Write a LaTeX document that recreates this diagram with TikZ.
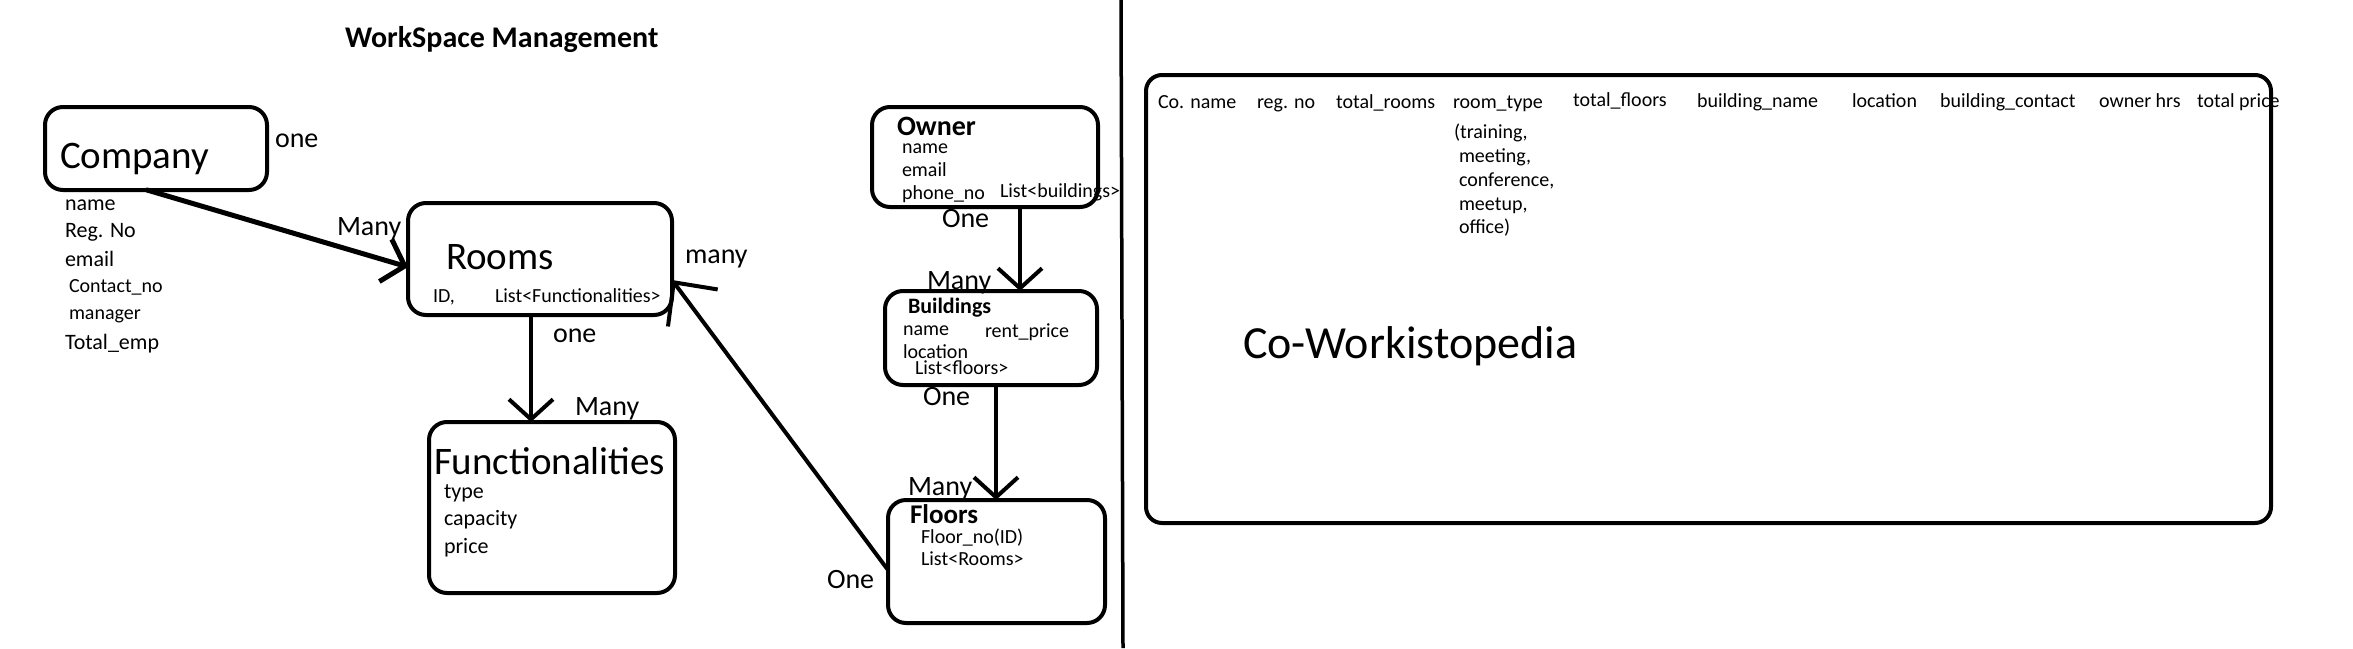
\documentclass[tikz,border=0pt]{standalone}
\usepackage{fontspec}
\setmainfont{Carlito}
\usetikzlibrary{arrows.meta}
\begin{document}
\begin{tikzpicture}[x=1pt,y=-1pt,
  ebox/.style={draw, line width=4pt, rounded corners=18pt, inner sep=0pt, outer sep=0pt},
  txt/.style={inner sep=0pt, outer sep=0pt, anchor=base west},
  big/.style={txt, font=\fontsize{39}{40}\selectfont},
  card/.style={txt, font=\fontsize{28}{30}\selectfont},
  at22/.style={txt, font=\fontsize{22}{24}\selectfont},
  at20/.style={txt, font=\fontsize{20}{22}\selectfont},
  bold28/.style={txt, font=\fontsize{28}{30}\selectfont\bfseries},
  conn/.style={line width=4pt, line cap=round, line join=round, -{Straight Barb[length=20pt,width=44pt]}},
]
\fill[white] (0,0) rectangle (2353,648);
\useasboundingbox (0,0) rectangle (2353,648);

% title
\node[txt, font=\fontsize{30}{32}\selectfont\bfseries] (title) at (345,47) {WorkSpace Management};

% boxes
\node[ebox, minimum width=222pt, minimum height=83pt] (company) at (156,148.5) {};
\node[ebox, minimum width=264pt, minimum height=112pt] (rooms) at (540,259) {};
\node[ebox, minimum width=246pt, minimum height=171pt] (func) at (552,507.5) {};
\node[ebox, minimum width=226pt, minimum height=100pt] (owner) at (985,157) {};
\node[ebox, minimum width=212pt, minimum height=94pt] (buildings) at (991,338) {};
\node[ebox, minimum width=217pt, minimum height=123pt] (floors) at (996.5,561.5) {};
\node[ebox, rounded corners=16pt, minimum width=1125pt, minimum height=448pt] (cowork) at (1708.5,299) {};

% divider
\coordinate (divtop) at (1121,0);
\coordinate (divbot) at (1123,648);
\draw[line width=3.5pt] (divtop) -- (divbot);

% Company
\node[big] (tcompany) at (60,168) {Company};
\node[card] (lone1) at (275,147) {one};
\node[at22] (c1) at (65,210) {name};
\node[at22] (c2) at (65,237) {Reg. No};
\node[at22] (c3) at (65,266) {email};
\node[at20] (c4) at (69,292) {Contact\_no};
\node[at20] (c5) at (69,319) {manager};
\node[at22] (c6) at (65,349) {Total\_emp};

% Rooms
\node[card] (lmany1) at (337,235) {Many};
\node[big] (trooms) at (446,269) {Rooms};
\node[at20] (r1) at (433,302) {ID,};
\node[at20] (r2) at (495,302) {List<Functionalities>};
\node[card] (lmany2) at (685,263) {many};
\node[card] (lone2) at (553,342) {one};

% Functionalities
\node[card] (lmany3) at (575,415) {Many};
\node[big] (tfunc) at (434,474) {Functionalities};
\node[at22] (f1) at (444,498) {type};
\node[at22] (f2) at (444,525) {capacity};
\node[at22] (f3) at (444,553) {price};

% Owner
\node[bold28] (towner) at (897,135) {Owner};
\node[at20] (o1) at (902,153) {name};
\node[at20] (o2) at (902,176) {email};
\node[at20] (o3) at (902,199) {phone\_no};
\node[at20] (o4) at (1000,197) {List<buildings>};
\node[card] (lone3) at (942,227) {One};

% Buildings
\node[card] (lmany4) at (927,289) {Many};
\node[txt, font=\fontsize{22}{24}\selectfont\bfseries] (tbuild) at (908,313) {Buildings};
\node[at20] (b1) at (903,335) {name};
\node[at20] (b2) at (985,337) {rent\_price};
\node[at20] (b3) at (903,358) {location};
\node[at20] (b4) at (915,374) {List<floors>};
\node[card] (lone4) at (923,405) {One};

% Floors
\node[card] (lmany5) at (908,495) {Many};
\node[txt, font=\fontsize{27}{29}\selectfont\bfseries] (tfloors) at (910,523) {Floors};
\node[at20] (fl1) at (921,543) {Floor\_no(ID)};
\node[at20] (fl2) at (921,565) {List<Rooms>};
\node[card] (lone5) at (827,588) {One};

% Co-Workistopedia
\node[at20] (h1) at (1158,108) {Co. name};
\node[at20] (h2) at (1257,108) {reg. no};
\node[at20] (h3) at (1336,108) {total\_rooms};
\node[at20] (h4) at (1453,108) {room\_type};
\node[at20] (h4a) at (1454,138) {(training,};
\node[at20] (h4b) at (1459,162) {meeting,};
\node[at20] (h4c) at (1459,186) {conference,};
\node[at20] (h4d) at (1459,210) {meetup,};
\node[at20] (h4e) at (1459,233) {office)};
\node[at20] (h5) at (1573,106) {total\_floors};
\node[at20] (h6) at (1697,107) {building\_name};
\node[at20] (h7) at (1852,107) {location};
\node[at20] (h8) at (1940,107) {building\_contact};
\node[at20] (h9) at (2099,107) {owner hrs};
\node[at20] (h10) at (2197,107) {total price};
\node[txt, font=\fontsize{46}{48}\selectfont] (tcw) at (1243,358) {Co-Workistopedia};

% connectors
\draw[conn, line width=5pt] ([xshift=-9pt]company.south) -- ([yshift=-8pt]rooms.west);
\draw[conn] ([xshift=-9pt]rooms.south) -- ([xshift=-9pt]rooms.south |- func.north);
\draw[conn, -{Straight Barb[length=32pt,width=62pt]}] ([yshift=-8.5pt]floors.west) -- ([yshift=-21pt]rooms.east);
\draw[conn] ([xshift=35pt]owner.south) -- ([xshift=35pt]owner.south |- buildings.north);
\draw[conn] ([xshift=5pt]buildings.south) -- ([xshift=5pt]buildings.south |- floors.north);
\end{tikzpicture}
\end{document}
